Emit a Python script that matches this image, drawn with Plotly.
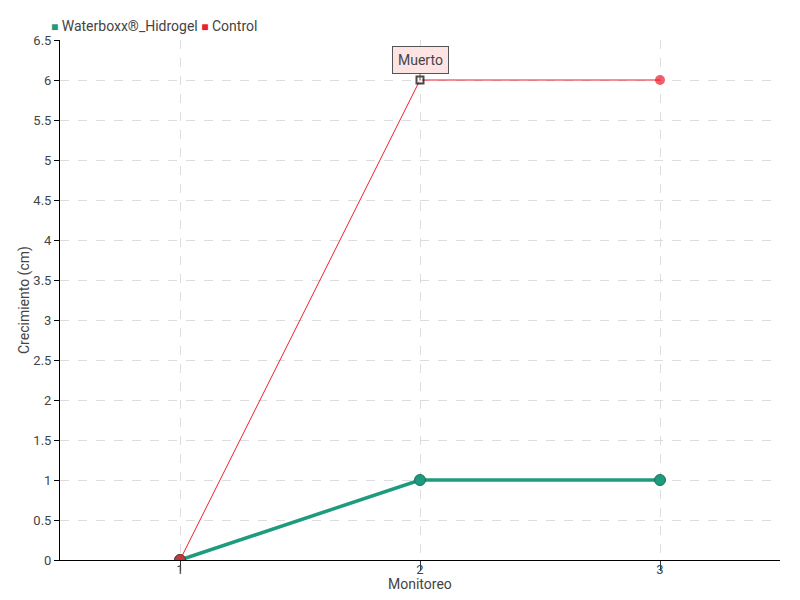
import plotly.graph_objects as go

monitoreo = [1, 2, 3]
waterboxx = [0, 1, 1]
control = [0, 6, 6]
y_ticks = [0, 0.5, 1, 1.5, 2, 2.5, 3, 3.5, 4, 4.5, 5, 5.5, 6, 6.5]
y_labels = ["0", "0.5", "1", "1.5", "2", "2.5", "3", "3.5", "4", "4.5", "5", "5.5", "6", "6.5"]
series_names = ["Waterboxx®_Hidrogel", "Control"]

FONT = "Roboto, sans-serif"
teal = "#1f9a7c"
red = "#ee1c2e"
txt = "#444444"

fig = go.Figure()
fig.add_trace(go.Scatter(
    x=monitoreo, y=waterboxx, name=series_names[0], mode="lines+markers",
    line=dict(color=teal, width=3.5),
    marker=dict(size=11, color=teal, line=dict(color="#16725b", width=1)),
))
fig.add_trace(go.Scatter(
    x=monitoreo, y=control, name=series_names[1], mode="lines+markers",
    line=dict(color=red, width=1),
    marker=dict(size=[11, 7, 10], symbol=["circle", "square", "circle"],
                color=[red, "white", red],
                line=dict(color=["#a8101c", "black", red], width=[1, 2, 0])),
))

# legend drawn as text with square swatches
legend_text = " ".join(
    f"<span style='color:{c};font-size:12px'>■</span> {n}"
    for n, c in zip(series_names, [teal, red])
)
fig.add_annotation(xref="paper", yref="paper", x=-0.0153, y=1.0, xanchor="left", yanchor="bottom",
                   yshift=4, text=legend_text, showarrow=False,
                   font=dict(family=FONT, size=14, color=txt))

fig.add_annotation(x=2, y=6, text="Muerto", showarrow=True, arrowhead=0, arrowwidth=1,
                   arrowcolor="#555", ax=0, ay=-20, bgcolor="#fde4e4", bordercolor="#555",
                   borderwidth=1, borderpad=5, font=dict(family=FONT, size=14, color=txt))

# axis titles
fig.add_annotation(xref="paper", yref="paper", x=0.5, y=0, yshift=-14, xanchor="center",
                   yanchor="top", text="Monitoreo", showarrow=False,
                   font=dict(family=FONT, size=14, color=txt))
fig.add_annotation(xref="paper", yref="paper", x=-0.05, y=0.5, xanchor="center",
                   yanchor="middle", textangle=-90, text="Crecimiento (cm)", showarrow=False,
                   font=dict(family=FONT, size=14, color=txt))

fig.update_layout(
    width=800, height=600, margin=dict(l=60, r=20, t=40, b=40, autoexpand=False),
    paper_bgcolor="white", plot_bgcolor="white",
    font=dict(family=FONT, size=13, color=txt),
    showlegend=False,
)
fig.update_xaxes(range=[0.5, 3.5], tickvals=monitoreo, ticktext=["1", "2", "3"],
                 showline=True, linecolor="black", linewidth=1,
                 ticks="outside", ticklen=10, tickcolor="#333", ticklabelstandoff=-13,
                 showgrid=True, gridcolor="#dddddd", griddash="dash",
                 zeroline=False, tickfont=dict(size=13, color=txt))
fig.update_yaxes(range=[0, 6.5], tickvals=y_ticks, ticktext=y_labels,
                 showline=True, linecolor="black", linewidth=1,
                 ticks="outside", ticklen=5, tickcolor="black",
                 showgrid=True, gridcolor="#dddddd", griddash="dash",
                 zeroline=False, tickfont=dict(size=13, color=txt))

fig.write_html("out.html", config={"displayModeBar": False},
               post_script="document.body.style.margin='0';")
